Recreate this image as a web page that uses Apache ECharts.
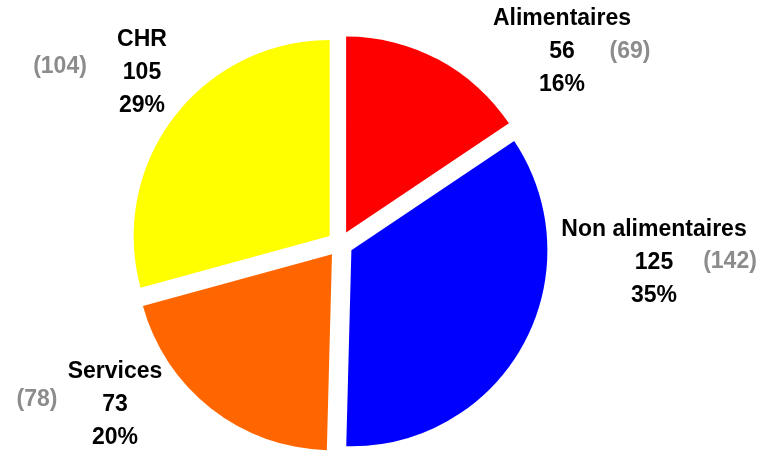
<!DOCTYPE html>
<html>
<head>
<meta charset="utf-8">
<script src="https://cdn.jsdelivr.net/npm/echarts@6/dist/echarts.min.js"></script>
<style>
  html, body { margin: 0; padding: 0; background: #fff; }
  #chart { width: 763px; height: 454px; }
</style>
</head>
<body>
<div id="chart"></div>
<script>
// Sectors, clockwise from the top
const categories = ['Alimentaires', 'Non alimentaires', 'Services', 'CHR'];
const values = [56, 125, 73, 105];
const previousValues = [69, 142, 78, 104];
const colors = ['#ff0000', '#0000ff', '#ff6600', '#ffff00'];

// Label anchors (block centre) for each sector
const mainLabelPos = [[562, 52], [654, 263], [115, 405], [142, 73]];
const prevLabelPos = [[630, 52], [730, 262], [37, 400], [60, 67]];

const font = "'Liberation Sans', Arial, sans-serif";
const center = [340, 244];
const radius = 196;

const chart = echarts.init(document.getElementById('chart'), null, { renderer: 'canvas' });

// Exploded sectors (every slice pulled out along its bisector)
const sectorData = categories.map((name, i) => ({
  name,
  value: values[i],
  selected: true,
  itemStyle: { color: colors[i] }
}));

// Same proportions, used only to carry the labels
const labelData = categories.map((name, i) => ({
  name,
  value: values[i],
  prev: previousValues[i]
}));

const ghost = {
  type: 'pie',
  center,
  radius,
  startAngle: 90,
  clockwise: true,
  silent: true,
  percentPrecision: 0,
  avoidLabelOverlap: false,
  data: labelData,
  itemStyle: { color: 'rgba(0,0,0,0)', borderWidth: 0 },
  labelLine: { show: false },
  emphasis: { disabled: true }
};

chart.setOption({
  animation: false,
  backgroundColor: '#ffffff',
  series: [
    {
      type: 'pie',
      center,
      radius,
      startAngle: 90,
      clockwise: true,
      selectedMode: 'multiple',
      selectedOffset: 13,
      silent: true,
      data: sectorData,
      itemStyle: { borderWidth: 0 },
      label: { show: false },
      labelLine: { show: false }
    },
    Object.assign({}, ghost, {
      label: {
        show: true,
        position: 'outside',
        formatter: '{b}\n{c}\n{d}%',
        fontFamily: font,
        fontWeight: 'bold',
        fontSize: 23,
        lineHeight: 33,
        color: '#000000',
        align: 'center'
      },
      labelLayout: (p) => ({
        x: mainLabelPos[p.dataIndex][0],
        y: mainLabelPos[p.dataIndex][1],
        align: 'center',
        verticalAlign: 'middle'
      })
    }),
    Object.assign({}, ghost, {
      label: {
        show: true,
        position: 'outside',
        formatter: (p) => '(' + p.data.prev + ')',
        fontFamily: font,
        fontWeight: 'bold',
        fontSize: 23,
        color: '#8c8c8c'
      },
      labelLayout: (p) => ({
        x: prevLabelPos[p.dataIndex][0],
        y: prevLabelPos[p.dataIndex][1],
        align: 'center',
        verticalAlign: 'middle'
      })
    })
  ]
});
</script>
</body>
</html>
